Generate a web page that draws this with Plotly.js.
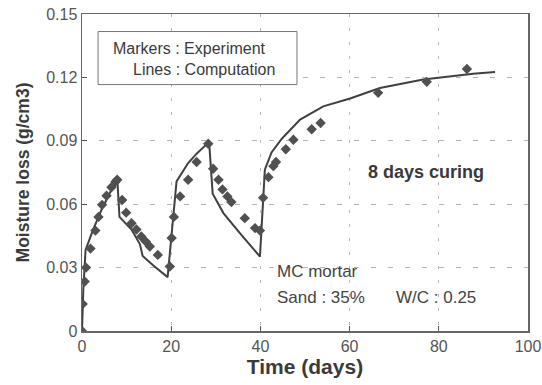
<!DOCTYPE html>
<html>
<head>
<meta charset="utf-8">
<script src="https://cdn.plot.ly/plotly-3.0.1.min.js"></script>
<style>html,body{margin:0;padding:0;background:#fff;}#chart{width:542px;height:385px;}</style>
</head>
<body>
<div id="chart"></div>
<script>
// Experiment (markers)
const expDays = [0, 0.15, 0.6, 0.9, 1.9, 3.0, 3.7, 4.5, 5.5, 6.6, 7.5, 7.9,
  9.0, 9.9, 11.1, 12.2, 13.3, 14.3, 15.2, 17.0,
  19.7, 20.1, 20.6, 22.0, 23.8, 25.7, 28.3,
  29.4, 30.6, 31.5, 32.6, 33.5, 36.5, 38.8, 39.9,
  40.6, 41.8, 42.9, 43.5, 45.7, 47.4, 51.5, 53.5,
  66.4, 77.3, 86.3];
const expLoss = [0, 0.0128, 0.0234, 0.030, 0.039, 0.0475, 0.054, 0.0597, 0.064, 0.068, 0.0706, 0.0716,
  0.062, 0.056, 0.051, 0.048, 0.0447, 0.0423, 0.040, 0.036,
  0.0305, 0.044, 0.054, 0.0637, 0.0716, 0.080, 0.0886,
  0.0768, 0.0716, 0.067, 0.0637, 0.061, 0.0534, 0.0487, 0.0475,
  0.063, 0.0728, 0.078, 0.080, 0.086, 0.0905, 0.0955, 0.0984,
  0.1127, 0.1179, 0.124];

// Computation (line)
const compDays = [0, 0.3, 0.8, 2.5, 4.3, 6.2, 7.9, 8.4, 11.1, 13.0, 13.6, 16.0, 19.2,
  21.2, 23.8, 25.7, 28.5, 29.3, 31.7, 35.4, 38.4, 39.9,
  41.0, 42.5, 44.8, 48.9, 54.1, 60.1, 66.8, 76.5, 87.7, 92.6];
const compLoss = [0, 0.020, 0.0384, 0.048, 0.057, 0.065, 0.0724, 0.054, 0.048, 0.041, 0.0355, 0.031, 0.0255,
  0.0708, 0.0795, 0.0839, 0.0895, 0.065, 0.0558, 0.0463, 0.039, 0.0352,
  0.0763, 0.0845, 0.0910, 0.100, 0.1063, 0.110, 0.115, 0.119, 0.1217, 0.1226];

const xTicks = [0, 20, 40, 60, 80, 100];
const yTicks = [0, 0.03, 0.06, 0.09, 0.12, 0.15];
const yTickText = ['0', '0.03', '0.06', '0.09', '0.12', '0.15'];

const ink = '#3a3a3a';
const font = 'Liberation Sans, Arial, sans-serif';

const traces = [
  {x: compDays, y: compLoss, mode: 'lines', type: 'scatter',
   line: {color: '#404040', width: 2}, hoverinfo: 'skip'},
  {x: expDays, y: expLoss, mode: 'markers', type: 'scatter',
   marker: {symbol: 'diamond', size: 8, color: '#505050'}, hoverinfo: 'skip'}
];

const layout = {
  width: 542, height: 385,
  margin: {l: 82, r: 14, t: 14, b: 54},
  paper_bgcolor: '#fff', plot_bgcolor: '#fff',
  showlegend: false,
  font: {family: font, color: '#444', size: 14},
  xaxis: {
    range: [0, 100], tickvals: xTicks, ticks: 'inside', ticklen: 5, tickcolor: '#555',
    showline: true, mirror: true, linecolor: '#666', linewidth: 1.5,
    showgrid: true, gridcolor: '#b5b5b5', griddash: '3px,11px', gridwidth: 1,
    zeroline: false,
    tickfont: {size: 16, color: '#555'},
    title: {text: '<b>Time (days)</b>', font: {size: 21, color: ink}, standoff: 4}
  },
  yaxis: {
    range: [0, 0.15], tickvals: yTicks, ticktext: yTickText, ticks: 'inside', ticklen: 5, tickcolor: '#555',
    showline: true, mirror: true, linecolor: '#666', linewidth: 1.5,
    showgrid: true, gridcolor: '#b5b5b5', griddash: '5px,12px', gridwidth: 1,
    zeroline: false,
    tickfont: {size: 16, color: '#555'},
    title: {text: '<b>Moisture loss (g/cm3)</b>', font: {size: 17.5, color: ink}, standoff: 12}
  },
  shapes: [
    {type: 'rect', xref: 'x', yref: 'y', x0: 3.6, x1: 48.2, y0: 0.1166, y1: 0.1417,
     line: {color: '#777', width: 1}, fillcolor: '#fff', layer: 'above'}
  ],
  annotations: [
    {xref: 'x', yref: 'y', x: 6.5, y: 0.1338, text: 'Markers : Experiment', showarrow: false,
     xanchor: 'left', font: {size: 16, color: ink}},
    {xref: 'x', yref: 'y', x: 43.7, y: 0.1237, text: 'Lines : Computation', showarrow: false,
     xanchor: 'right', font: {size: 16, color: ink}},
    {xref: 'x', yref: 'y', x: 77.2, y: 0.0753, text: '<b>8 days curing</b>', showarrow: false,
     font: {size: 18, color: ink}},
    {xref: 'x', yref: 'y', x: 43.2, y: 0.0282, text: 'MC mortar', showarrow: false,
     xanchor: 'left', font: {size: 17, color: '#444'}},
    {xref: 'x', yref: 'y', x: 43.2, y: 0.0158, text: 'Sand : 35%', showarrow: false,
     xanchor: 'left', font: {size: 17, color: '#444'}},
    {xref: 'x', yref: 'y', x: 70.0, y: 0.0158, text: 'W/C : 0.25', showarrow: false,
     xanchor: 'left', font: {size: 17, color: '#444'}}
  ]
};

Plotly.newPlot('chart', traces, layout, {displayModeBar: false, staticPlot: true});
</script>
</body>
</html>
